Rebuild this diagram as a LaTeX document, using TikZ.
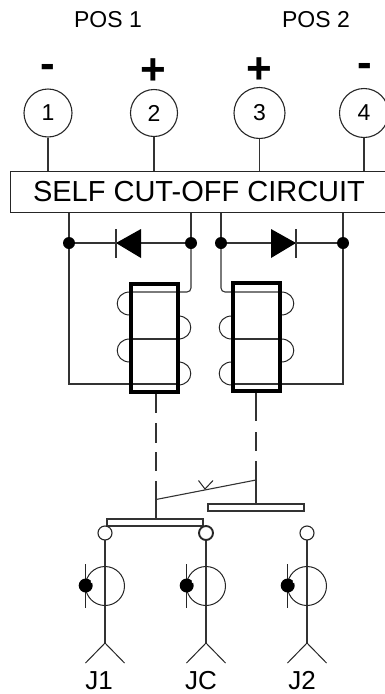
\documentclass[tikz,border=0pt]{standalone}
\usepackage{fontspec}
\setmainfont{Liberation Sans}
\usetikzlibrary{positioning}
\tikzset{
    wire/.style={draw=black!80, line width=1.1pt},
    thinwire/.style={draw=black!85, line width=1pt},
    pinnode/.style={circle, draw=black!85, line width=1.1pt, inner sep=0pt, font=\fontsize{23}{26}\selectfont},
    signnode/.style={inner sep=0pt, font=\fontsize{44}{46}\selectfont\bfseries},
    posnode/.style={inner sep=0pt, font=\fontsize{23}{26}\selectfont},
    jacknode/.style={inner sep=0pt, font=\fontsize{26}{30}\selectfont},
    dotnode/.style={circle, fill=black, inner sep=0pt, minimum size=12pt},
    corebox/.style={draw=black, line width=4.2pt},
    barbox/.style={draw=black!80, fill=white, line width=1.2pt},
    contactnode/.style={circle, draw=black!85, fill=white, line width=1.1pt, inner sep=0pt, minimum size=14pt}
}
\begin{document}
\begin{tikzpicture}[x=1pt,y=-1pt]
    \useasboundingbox (0,0) rectangle (385,694);
    \clip (0,0) rectangle (385,694);
    \node[posnode] (pos1) at (108,20) {POS 1};
    \node[posnode] (pos2) at (316,20) {POS 2};
    \node[signnode] (s1) at (47.5,71) {-};
    \node[signnode] (s2) at (153,72) {+};
    \node[signnode] (s3) at (259,71) {+};
    \node[signnode] (s4) at (364.5,70) {-};
    \node[pinnode, minimum size=48pt] (p1) at (48,113) {1};
    \node[pinnode, minimum size=47pt] (p2) at (154,113) {2};
    \node[pinnode, minimum size=51pt] (p3) at (259.5,113) {3};
    \node[pinnode, minimum size=49pt] (p4) at (364,113) {4};
    \node[draw=black!85, line width=1.1pt, anchor=north west, minimum width=377pt, minimum height=41pt, inner sep=0pt] (cutoff) at (10,171) {};
    \node[inner sep=0pt, font=\fontsize{29}{32}\selectfont] (cutofftext) at (199,191.5) {SELF CUT-OFF CIRCUIT};
    \draw[wire] (p1) -- (p1 |- cutoff.north);
    \draw[wire] (p2) -- (p2 |- cutoff.north);
    \draw[wire] (p3) -- (p3 |- cutoff.north);
    \draw[wire] (p4) -- (p4 |- cutoff.north);
    % diodes and feeds
    \node[dotnode] (d1) at (69,243) {};
    \node[dotnode] (d2) at (191,243) {};
    \node[dotnode] (d3) at (221,243) {};
    \node[dotnode] (d4) at (343,243) {};
    \draw[wire] (d1 |- cutoff.south) -- (d1);
    \draw[wire] (d2 |- cutoff.south) -- (d2);
    \draw[wire] (d3 |- cutoff.south) -- (d3);
    \draw[wire] (d4 |- cutoff.south) -- (d4);
    \draw[wire] (d1) -- (d2);
    \draw[wire] (d3) -- (d4);
    \fill (116,243) -- (141,229) -- (141,258) -- cycle;
    \draw[wire] (116,229) -- (116,258);
    \fill (296,243) -- (271,229) -- (271,258) -- cycle;
    \draw[wire] (296,229) -- (296,258);
    % left coil
    \draw[wire, rounded corners=4pt] (d2) -- (191,292) -- (130,292);
    \draw[wire] (130,339) -- (178,339);
    \draw[wire] (d1) -- (69,384) -- (178,384);
    \foreach \ya/\yb in {292/315, 339/362} {
        \draw[thinwire] (130,\ya) .. controls (113,\ya) and (113,\yb) .. (130,\yb);
    }
    \foreach \ya/\yb in {316/339, 362/385} {
        \draw[thinwire] (178,\ya) .. controls (195,\ya) and (195,\yb) .. (178,\yb);
    }
    \draw[corebox] (131,284) rectangle (178,392);
    % right coil
    \draw[wire, rounded corners=4pt] (d3) -- (221,292) -- (281,292);
    \draw[wire] (232,339) -- (281,339);
    \draw[wire] (d4) -- (343,384) -- (232,384);
    \foreach \ya/\yb in {292/315, 339/362} {
        \draw[thinwire] (281,\ya) .. controls (298,\ya) and (298,\yb) .. (281,\yb);
    }
    \foreach \ya/\yb in {316/339, 362/385} {
        \draw[thinwire] (232,\ya) .. controls (215,\ya) and (215,\yb) .. (232,\yb);
    }
    \draw[corebox] (233,283) rectangle (280,391);
    % contacts
    \node[barbox, minimum width=96pt, minimum height=7pt, inner sep=0pt] (bar1) at (155,522.5) {};
    \node[barbox, minimum width=96pt, minimum height=7pt, inner sep=0pt] (bar2) at (256,507.5) {};
    \coordinate (link1) at (156,394);
    \coordinate (link2) at (256,393);
    \draw[wire, dash pattern=on 19pt off 10pt on 20pt off 9pt on 19pt off 10pt on 38pt] (link1) -- (link1 |- bar1.north);
    \draw[wire, dash pattern=on 28pt off 11pt on 19pt off 10pt on 43pt] (link2) -- (link2 |- bar2.north);
    \draw[wire] (156,499.5) -- (256,480);
    \draw[thinwire] (198.5,480.5) -- (205,489) -- (213,480.5);
    \foreach \name/\x/\lab/\lx/\lw in {a/105/J1/99/1.1, c/206/JC/201/1.9, b/307/J2/302/1.1} {
        \draw[wire, line width=1.4pt] (\x,533) -- (\x,643);
        \draw[thinwire] (\x-19.5,663) -- (\x,643) -- (\x+19.5,663);
        \node[contactnode, line width=\lw pt] (con\name) at (\x,533) {};
        \node[circle, draw=black!85, line width=1pt, inner sep=0pt, minimum size=39pt] (ring\name) at (\x,586) {};
        \draw[thinwire] (\x-19.3,564) -- (\x-19.3,608);
        \node[circle, fill=black, inner sep=0pt, minimum size=14pt] (ball\name) at (\x-19.3,585.5) {};
        \fill[white] (\x-13.3,581.8) circle (1.2pt);
        \node[jacknode] (jack\name) at (\lx,680.5) {\lab};
    }
\end{tikzpicture}
\end{document}
